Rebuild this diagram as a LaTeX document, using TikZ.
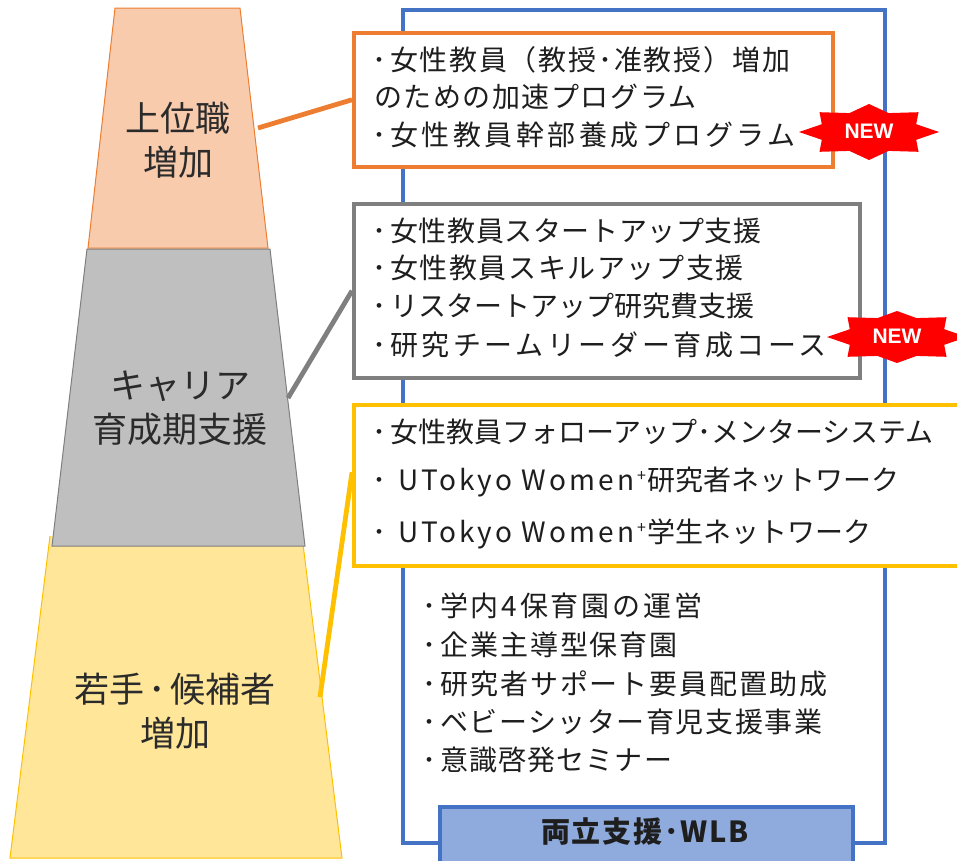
\documentclass[tikz,border=0pt]{standalone}
\usepackage{fontspec}
\setmainfont{Noto Sans CJK JP}
\newfontfamily\badgefont{Liberation Sans}
\newcommand\bdot{\makebox[18pt][l]{･}}
\newcommand\mdot{\hspace{2pt}･\hspace{2pt}}
\definecolor{orA}{HTML}{ED7D31}
\definecolor{orF}{HTML}{F8CBAD}
\definecolor{grA}{HTML}{7F7F7F}
\definecolor{grF}{HTML}{BFBFBF}
\definecolor{yeA}{HTML}{FFC000}
\definecolor{yeF}{HTML}{FFE699}
\definecolor{blA}{HTML}{4472C4}
\definecolor{blF}{HTML}{8FAADC}
\definecolor{txt}{HTML}{1E1E1E}
\definecolor{ptxt}{HTML}{2B2B2B}
\definecolor{newred}{HTML}{FF0000}
\begin{document}
\begin{tikzpicture}[x=1pt,y=-1pt,
  box/.style={draw,line width=3.5pt,fill=white,inner sep=0pt,anchor=north west},
  conn/.style={line width=4.8pt},
  line/.style={anchor=west,inner sep=0pt,text=txt,font=\fontsize{28}{32}\selectfont},
  ls/.style={font=\fontsize{28}{32}\selectfont\addfontfeature{LetterSpace=#1}},
  plabel/.style={align=center,inner sep=0pt,text=ptxt,font=\fontsize{35}{44}\selectfont},
  newtxt/.style={text=white,inner sep=0pt,font=\badgefont\bfseries\fontsize{21}{22}\selectfont}
]
\useasboundingbox (0,0) rectangle (957,860);
% pyramid
\fill[yeF] (50,536) -- (302,536) -- (342,858) -- (10,858) -- cycle;
\draw[yeA,line width=1pt] (50,536) -- (10,858) -- (342,858) -- (302,536);
\draw[orA,fill=orF,line width=1pt] (115,8) -- (240,8) -- (268,248) -- (88,248) -- cycle;
\draw[grA,fill=grF,line width=1pt] (87,249) -- (270,249) -- (305,546) -- (52,546) -- cycle;
\node[plabel] (lab1) at (178,140) {上位職\\増加};
\node[plabel] (lab2) at (180,408) {キャリア\\育成期支援};
\node[plabel] (lab3) at (175,711) {若手\hspace{4pt}･\hspace{4pt}候補者\\増加};
\coordinate (pA) at (258,128);
\coordinate (pB) at (288,398);
\coordinate (pC) at (320,697);
% blue frame
\draw[blA,line width=3.5pt] (403,10) rectangle (885,843);
% boxes
\node[box,draw=orA,minimum width=479pt,minimum height=134pt] (ob) at (352,31) {};
\node[box,draw=grA,minimum width=506pt,minimum height=174pt] (gb) at (352,202) {};
\node[box,draw=yeA,minimum width=640pt,minimum height=161pt] (yb) at (352,403) {};
\draw[conn,orA] (pA) -- (ob.west);
\draw[conn,grA] (pB) -- (gb.west);
\draw[conn,yeA] (pC) -- ([yshift=13pt]yb.west);
% orange texts
\node[line,ls=6] (o1) at (372,60) {\bdot 女性教員（教授\mdot 准教授）増加};
\node[line,ls=5.5] (o2) at (374,97) {のための加速プログラム};
\node[line,ls=12.6] (o3) at (372,135) {\bdot 女性教員幹部養成プログラム};
% gray texts
\node[line,ls=2.2] (g1) at (372,231) {\bdot 女性教員スタートアップ支援};
\node[line,ls=5.7] (g2) at (372,268) {\bdot 女性教員スキルアップ支援};
\node[line] (g3) at (372,306) {\bdot リスタートアップ研究費支援};
\node[line,ls=12.8] (g4) at (372,345) {\bdot 研究チームリーダー育成コース};
% yellow texts
\node[line] (y1) at (372,432) {\bdot 女性教員フォローアップ･メンターシステム};
\node[line] (y2) at (372,482) {\makebox[26pt][l]{･}{\addfontfeature{LetterSpace=11}UTokyo Women}\hspace{3pt}\raisebox{9pt}{\fontsize{16}{16}\selectfont +}\hspace{2pt}研究者ネットワーク};
\node[line] (y3) at (372,534) {\makebox[26pt][l]{･}{\addfontfeature{LetterSpace=11}UTokyo Women}\hspace{3pt}\raisebox{9pt}{\fontsize{16}{16}\selectfont +}\hspace{2pt}学生ネットワーク};
% blue texts
\node[line,ls=10] (b1) at (422,606) {\bdot 学内4保育園の運営};
\node[line,ls=7] (b2) at (422,645) {\bdot 企業主導型保育園};
\node[line,ls=7] (b3) at (422,684) {\bdot 研究者サポート要員配置助成};
\node[line,ls=5.5] (b4) at (422,722) {\bdot ベビーシッター育児支援事業};
\node[line,ls=4] (b5) at (422,760) {\bdot 意識啓発セミナー};
% WLB box
\node[box,draw=blA,fill=blF,minimum width=413pt,minimum height=70pt] (wlb) at (438,805) {};
\node[inner sep=0pt,text=txt,font=\fontsize{29}{30}\selectfont\bfseries\addfontfeature{LetterSpace=6}] (wlbt) at (645,831) {両立支援\mdot WLB};
% NEW badges
\fill[newred] (869,132) +(70,0) -- +(47.2,7.8) -- +(49.5,19.8) -- +(19.6,18.9) -- +(0,28) -- +(-19.6,18.9) -- +(-49.5,19.8) -- +(-47.2,7.8) -- +(-70,0) -- +(-47.2,-7.8) -- +(-49.5,-19.8) -- +(-19.6,-18.9) -- +(0,-28) -- +(19.6,-18.9) -- +(49.5,-19.8) -- +(47.2,-7.8) -- cycle;
\node[newtxt] (new1) at (869,131) {NEW};
\fill[newred] (897,337) +(70,0) -- +(47.2,7.8) -- +(49.5,19.8) -- +(19.6,18.9) -- +(0,26) -- +(-19.6,18.9) -- +(-49.5,19.8) -- +(-47.2,7.8) -- +(-70,0) -- +(-47.2,-7.8) -- +(-49.5,-19.8) -- +(-19.6,-18.9) -- +(0,-26) -- +(19.6,-18.9) -- +(49.5,-19.8) -- +(47.2,-7.8) -- cycle;
\node[newtxt] (new2) at (897,336) {NEW};
\end{tikzpicture}
\end{document}
